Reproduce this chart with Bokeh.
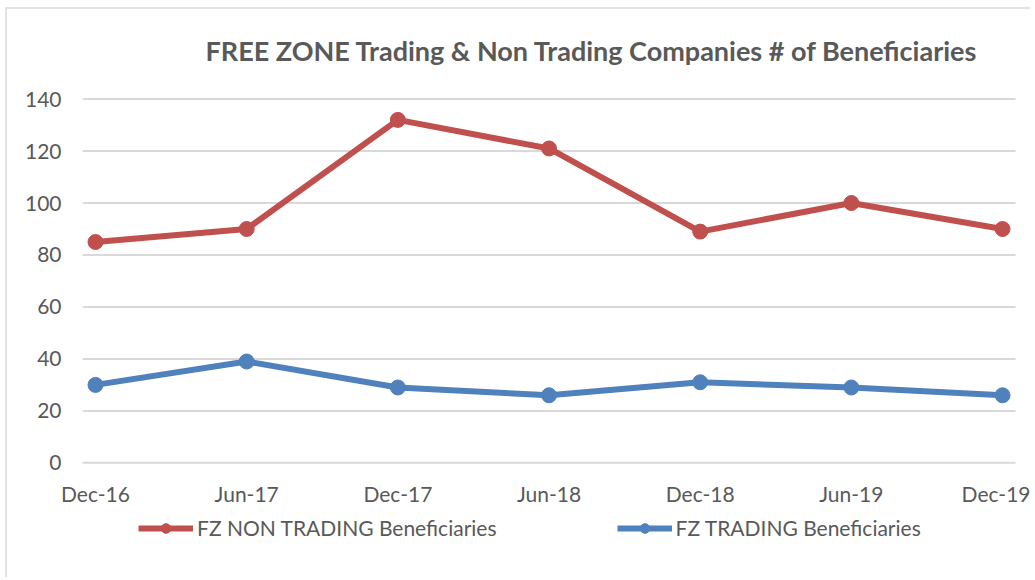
from bokeh.plotting import figure
from bokeh.models import Legend, LegendItem, FixedTicker, Range1d
from bokeh.embed import file_html
from bokeh.resources import INLINE

categories = ["Dec-16", "Jun-17", "Dec-17", "Jun-18", "Dec-18", "Jun-19", "Dec-19"]
non_trading = [85, 90, 132, 121, 89, 100, 90]
trading = [30, 39, 29, 26, 31, 29, 26]
y_ticks = [0, 20, 40, 60, 80, 100, 120, 140]

RED = "#C0504D"
BLUE = "#4F81BD"
TXT = "#595959"
GRID = "#D9D9D9"
FONT = "Lato"
X_PAD = 0.086  # gap between the plot area edge and first/last category

xs = list(range(len(categories)))

chart_border = ("linear-gradient(#E3E3E3,#E3E3E3) 5px 7px / 100% 2px no-repeat, "
                "linear-gradient(#E3E3E3,#E3E3E3) 5px 7px / 2px 100% no-repeat, white")

p = figure(frame_width=969, frame_height=453, output_backend="svg", toolbar_location=None,
           x_range=Range1d(-0.225, 6.185), y_range=Range1d(-33.35, 141),
           min_border_left=61, min_border_right=0, min_border_top=96, min_border_bottom=28,
           styles={"background": chart_border})

p.title.text = "FREE ZONE Trading & Non Trading Companies # of Beneficiaries"
p.title.text_font = FONT
p.title.text_font_size = "27px"
p.title.text_font_style = "bold"
p.title.text_color = TXT
p.title.align = "left"
p.title.offset = 144
p.title.standoff = 60

p.outline_line_color = None
p.background_fill_color = "white"
p.border_fill_alpha = 0

p.xgrid.visible = False
p.ygrid.visible = False

# horizontal gridlines limited to the plot area (Excel style)
p.segment(x0=[xs[0] - X_PAD] * len(y_ticks), x1=[xs[-1] + X_PAD] * len(y_ticks),
          y0=y_ticks, y1=y_ticks, line_color=GRID, line_width=2)

p.yaxis.ticker = FixedTicker(ticks=y_ticks)
p.yaxis.axis_line_color = None
p.yaxis.major_tick_line_color = None
p.yaxis.major_tick_out = 0
p.yaxis.minor_tick_line_color = None
p.yaxis.major_label_text_font = FONT
p.yaxis.major_label_text_font_size = "21px"
p.yaxis.major_label_text_color = TXT
p.yaxis.major_label_standoff = 0

p.xaxis.ticker = FixedTicker(ticks=xs)
p.xaxis.fixed_location = 0
p.xaxis.major_label_overrides = {i: c for i, c in enumerate(categories)}
p.xaxis.axis_line_color = None
p.xaxis.major_tick_line_color = None
p.xaxis.minor_tick_line_color = None
p.xaxis.major_label_text_font = FONT
p.xaxis.major_label_text_font_size = "21px"
p.xaxis.major_label_text_color = TXT
p.xaxis.major_label_standoff = 12

r1 = p.line(xs, non_trading, line_color=RED, line_width=6)
m1 = p.scatter(xs, non_trading, size=15, fill_color=RED, line_color=RED)
r2 = p.line(xs, trading, line_color=BLUE, line_width=6)
m2 = p.scatter(xs, trading, size=15, fill_color=BLUE, line_color=BLUE)

legend = Legend(items=[LegendItem(label="FZ NON TRADING Beneficiaries", renderers=[r1, m1]),
                       LegendItem(label="FZ TRADING Beneficiaries", renderers=[r2, m2])],
                orientation="horizontal", location=(77, 9),
                glyph_width=55, glyph_height=24, label_standoff=4, spacing=120,
                padding=0, margin=0, border_line_color=None, background_fill_alpha=0,
                label_text_font=FONT, label_text_font_size="21px", label_text_color=TXT)
p.add_layout(legend, "center")

open("out.html", "w").write(file_html(p, INLINE))
